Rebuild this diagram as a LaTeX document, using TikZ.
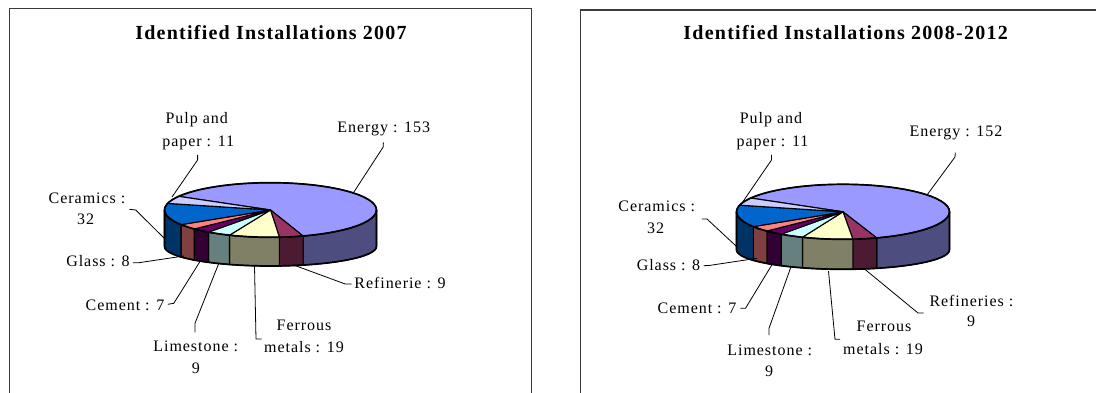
\documentclass[tikz,border=0pt]{standalone}
\usepackage{fontspec}
\usetikzlibrary{calc}
\setmainfont{Liberation Serif}
\newfontfamily\lblfont{Liberation Serif}[LetterSpace=6]
\newfontfamily\ttlfont{Liberation Serif}[LetterSpace=6.25]
\definecolor{enT}{HTML}{9999FF}\definecolor{enS}{HTML}{4D4D80}
\definecolor{refT}{HTML}{993366}\definecolor{refS}{HTML}{4D1A33}
\definecolor{ferT}{HTML}{FFFFCC}\definecolor{ferS}{HTML}{808066}
\definecolor{limT}{HTML}{CCFFFF}\definecolor{limS}{HTML}{668080}
\definecolor{cemT}{HTML}{660066}\definecolor{cemS}{HTML}{330033}
\definecolor{glaT}{HTML}{FF8080}\definecolor{glaS}{HTML}{804040}
\definecolor{cerT}{HTML}{0066CC}\definecolor{cerS}{HTML}{003366}
\definecolor{pulT}{HTML}{CCCCFF}
\definecolor{framec}{HTML}{3A3A3A}
\tikzset{
  wall/.style={draw=black, line width=1.1pt, line join=round},
  rim/.style={draw=black, line width=1.7pt, line join=round},
  lead/.style={draw=black, line width=0.8pt},
  lbl/.style={font=\lblfont\fontsize{16}{19}\selectfont, inner sep=0pt, anchor=base},
  ttl/.style={font=\ttlfont\bfseries\fontsize{20}{24}\selectfont, inner sep=0pt, anchor=base},
  frm/.style={draw=framec, line width=1.4pt}
}
\begin{document}
\begin{tikzpicture}[x=1pt,y=1pt]
\useasboundingbox (0,0) rectangle (1096,-393);
% frames
\draw[frm] (9.4,-395) -- (9.4,-8.3) -- (531.7,-8.3) -- (531.7,-395);
\draw[frm] (580.7,-395) -- (580.7,-10) -- (1098,-10);
% titles
\node[ttl] (t1) at (271,-39.3) {Identified Installations 2007};
\node[ttl] (t2) at (845.6,-39.3) {Identified Installations 2008-2012};

% ---------- pie 1 ----------
\begin{scope}[shift={(270.5,-210)}]
\def\RX{106}\def\RY{27.3}\def\RYB{19.5}\def\DC{36.5}
\foreach \a/\b/\c in {-72.10/0/enS, -85.16/-72.10/refS, -112.74/-85.16/ferS, -125.81/-112.74/limS, -135.97/-125.81/cemS, -147.58/-135.97/glaS, -180/-147.58/cerS}
  \filldraw[wall, fill=\c] (\a:{\RX} and {\RY}) arc[start angle=\a, end angle=\b, x radius=\RX, y radius=\RY] -- ($(\b:{\RX} and {\RYB})+(0,-\DC)$) arc[start angle=\b, end angle=\a, x radius=\RX, y radius=\RYB] -- cycle;
\foreach \a/\b/\c in {150/-72.10/enT, -72.10/-85.16/refT, -85.16/-112.74/ferT, -112.74/-125.81/limT, -125.81/-135.97/cemT, -135.97/-147.58/glaT, -147.58/-194.03/cerT, -194.03/-210/pulT}
  \filldraw[wall, fill=\c] (0,0) -- (\a:{\RX} and {\RY}) arc[start angle=\a, end angle=\b, x radius=\RX, y radius=\RY] -- cycle;
\draw[rim] (180:{\RX} and {\RY}) -- ($(180:{\RX} and {\RYB})+(0,-\DC)$) arc[start angle=180, end angle=360, x radius=\RX, y radius=\RYB] -- (0:{\RX} and {\RY});
\draw[rim] (0,0) ellipse[x radius=\RX, y radius=\RY];
\end{scope}

% labels pie 1
\node[lbl] (en1) at (383.8,-132.7) {Energy : 153};
\node[lbl] (pu1a) at (196.7,-124) {Pulp and};
\node[lbl] (pu1b) at (198.3,-146.7) {paper : 11};
\node[lbl] (ce1a) at (87,-203.3) {Ceramics :};
\node[lbl] (ce1b) at (85.7,-225) {32};
\node[lbl] (gl1) at (98,-266.7) {Glass : 8};
\node[lbl] (cm1) at (125,-310) {Cement : 7};
\node[lbl] (li1a) at (195.7,-351.7) {Limestone :};
\node[lbl] (li1b) at (195.8,-373) {9};
\node[lbl] (fe1a) at (304,-330) {Ferrous};
\node[lbl] (fe1b) at (304,-352.7) {metals : 19};
\node[lbl] (re1) at (400,-288) {Refinerie : 9};

\coordinate (en1L) at (383.4,-142.5); \coordinate (en1P) at (353.8,-192.2);
\coordinate (pu1L) at (197.6,-155);   \coordinate (pu1P) at (172,-197);
\coordinate (ce1L) at (129.4,-209.3); \coordinate (ce1P) at (165,-239);
\coordinate (gl1L) at (132.9,-262.7); \coordinate (gl1P) at (184,-256);
\coordinate (cm1L) at (167.8,-304.3); \coordinate (cm1P) at (200.3,-261);
\coordinate (li1L) at (195,-332.3);   \coordinate (li1P) at (218.8,-263.3);
\coordinate (fe1L) at (261.5,-339);   \coordinate (fe1P) at (254.5,-266);
\coordinate (re1L) at (351.5,-284);   \coordinate (re1P) at (295.5,-265.7);

\draw[lead] (en1L) -- ++(-0.2,-4.5) -- (en1P);
\draw[lead] (pu1L) -- ++(0,-5) -- (pu1P);
\draw[lead] (ce1L) -- ++(6.3,-0.7) -- (ce1P);
\draw[lead] (gl1L) -- ++(6,0) -- (gl1P);
\draw[lead] (cm1L) -- ++(6,1) -- (cm1P);
\draw[lead] (li1L) -- ++(0,9) -- (li1P);
\draw[lead] (fe1L) -- ++(-5.5,0) -- (fe1P);
\draw[lead] (re1L) -- ++(-6.3,0) -- (re1P);

% ---------- pie 2 ----------
\begin{scope}[shift={(843,-211.8)}]
\def\RX{106.5}\def\RY{27.5}\def\RYB{19.5}\def\DC{38}
\foreach \a/\b/\c in {-71.54/0/enS, -84.66/-71.54/refS, -112.35/-84.66/ferS, -125.46/-112.35/limS, -135.67/-125.46/cemS, -147.33/-135.67/glaS, -180/-147.33/cerS}
  \filldraw[wall, fill=\c] (\a:{\RX} and {\RY}) arc[start angle=\a, end angle=\b, x radius=\RX, y radius=\RY] -- ($(\b:{\RX} and {\RYB})+(0,-\DC)$) arc[start angle=\b, end angle=\a, x radius=\RX, y radius=\RYB] -- cycle;
\foreach \a/\b/\c in {150/-71.54/enT, -71.54/-84.66/refT, -84.66/-112.35/ferT, -112.35/-125.46/limT, -125.46/-135.67/cemT, -135.67/-147.33/glaT, -147.33/-193.97/cerT, -193.97/-210/pulT}
  \filldraw[wall, fill=\c] (0,0) -- (\a:{\RX} and {\RY}) arc[start angle=\a, end angle=\b, x radius=\RX, y radius=\RY] -- cycle;
\draw[rim] (180:{\RX} and {\RY}) -- ($(180:{\RX} and {\RYB})+(0,-\DC)$) arc[start angle=180, end angle=360, x radius=\RX, y radius=\RYB] -- (0:{\RX} and {\RY});
\draw[rim] (0,0) ellipse[x radius=\RX, y radius=\RY];
\end{scope}

% labels pie 2
\node[lbl] (en2) at (956,-136.7) {Energy : 152};
\node[lbl] (pu2a) at (771,-123.3) {Pulp and};
\node[lbl] (pu2b) at (772.5,-146.7) {paper : 11};
\node[lbl] (ce2a) at (656.7,-211.7) {Ceramics :};
\node[lbl] (ce2b) at (655.7,-233.3) {32};
\node[lbl] (gl2) at (668.5,-270) {Glass : 8};
\node[lbl] (cm2) at (697,-313.3) {Cement : 7};
\node[lbl] (li2a) at (769.7,-355) {Limestone :};
\node[lbl] (li2b) at (769,-376.7) {9};
\node[lbl] (fe2a) at (884,-331.7) {Ferrous};
\node[lbl] (fe2b) at (883,-354.3) {metals : 19};
\node[lbl] (re2a) at (971.4,-306) {Refineries :};
\node[lbl] (re2b) at (971,-326.7) {9};

\coordinate (en2L) at (955.3,-152.7); \coordinate (en2P) at (927,-195);
\coordinate (pu2L) at (771.5,-155);   \coordinate (pu2P) at (742,-203);
\coordinate (ce2L) at (701.8,-219);   \coordinate (ce2P) at (736.8,-246.7);
\coordinate (gl2L) at (703.6,-265.7); \coordinate (gl2P) at (757,-258.3);
\coordinate (cm2L) at (740.3,-308.3); \coordinate (cm2P) at (772.7,-263.5);
\coordinate (li2L) at (769,-335);     \coordinate (li2P) at (791,-266.7);
\coordinate (fe2L) at (840,-339.3);   \coordinate (fe2P) at (828.5,-271);
\coordinate (re2L) at (923.5,-313);   \coordinate (re2P) at (864.5,-269);

\draw[lead] (en2L) -- ++(-0.3,-4.3) -- (en2P);
\draw[lead] (pu2L) -- ++(0,-5) -- (pu2P);
\draw[lead] (ce2L) -- ++(5.2,0) -- (ce2P);
\draw[lead] (gl2L) -- ++(5.4,0.2) -- (gl2P);
\draw[lead] (cm2L) -- ++(5.2,0) -- (cm2P);
\draw[lead] (li2L) -- ++(0,6.7) -- (li2P);
\draw[lead] (fe2L) -- ++(-5,0) -- (fe2P);
\draw[lead] (re2L) -- ++(-5.5,0) -- (re2P);
\end{tikzpicture}
\end{document}
